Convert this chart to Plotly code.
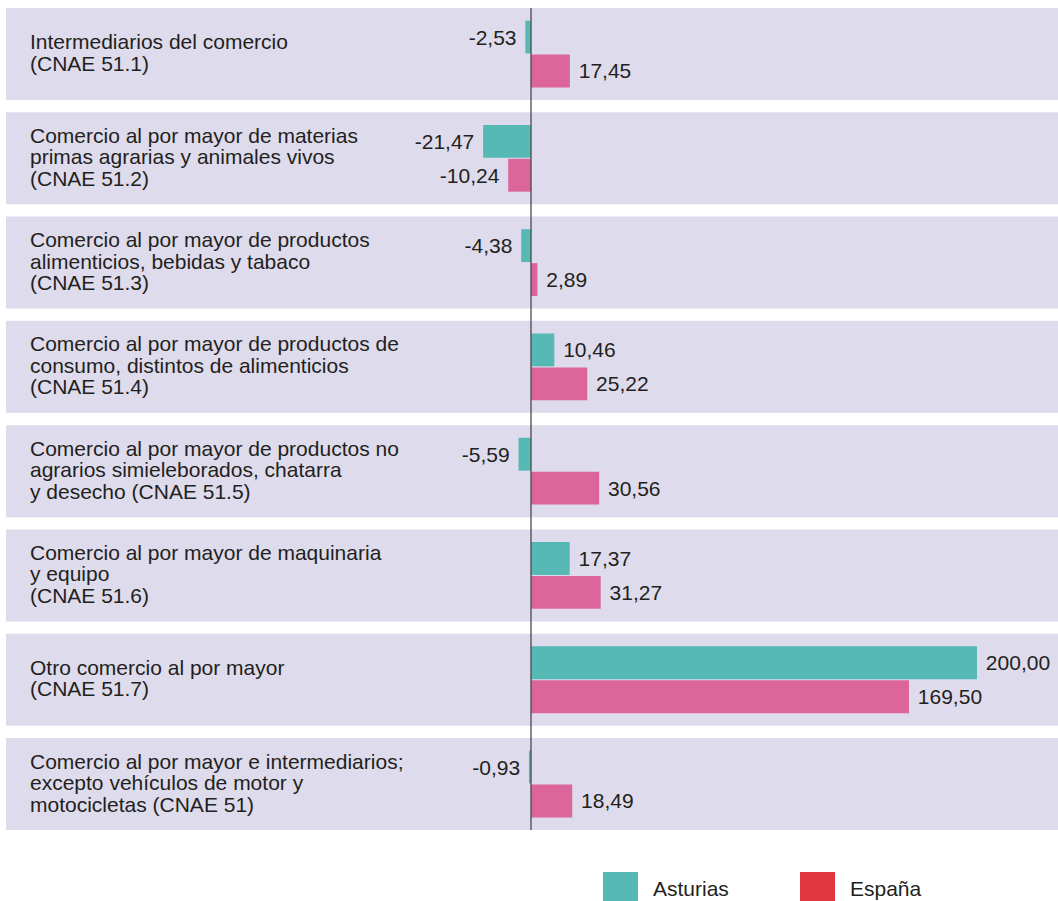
import plotly.graph_objects as go

W, H = 1058, 901

# Sector labels, one entry per text line
labels = [
    ["Intermediarios del comercio", "(CNAE 51.1)"],
    ["Comercio al por mayor de materias", "primas agrarias y animales vivos", "(CNAE 51.2)"],
    ["Comercio al por mayor de productos", "alimenticios, bebidas y tabaco", "(CNAE 51.3)"],
    ["Comercio al por mayor de productos de", "consumo, distintos de alimenticios", "(CNAE 51.4)"],
    ["Comercio al por mayor de productos no", "agrarios simieleborados, chatarra", "y desecho (CNAE 51.5)"],
    ["Comercio al por mayor de maquinaria", "y equipo", "(CNAE 51.6)"],
    ["Otro comercio al por mayor", "(CNAE 51.7)"],
    ["Comercio al por mayor e intermediarios;", "excepto vehículos de motor y", "motocicletas (CNAE 51)"],
]
asturias = [-2.53, -21.47, -4.38, 10.46, -5.59, 17.37, 200.00, -0.93]
espana = [17.45, -10.24, 2.89, 25.22, 30.56, 31.27, 169.50, 18.49]
series_names = ["Asturias", "España"]

categories = [" ".join(lines) for lines in labels]

TEAL = "#57b9b5"
PINK = "#dc6699"
RED = "#e3373f"
BAND = "#dedbec"
INK = "#231f20"
FONT = "Liberation Sans, Arial, Helvetica, sans-serif"
FS = 21
NB = "\u00a0"


def value_text(values):
    out = []
    for v in values:
        s = f"{v:.2f}".replace(".", ",")
        out.append(NB + s if v >= 0 else s + NB)
    return out


fig = go.Figure()
for name, vals, col in [(series_names[0], asturias, TEAL), (series_names[1], espana, PINK)]:
    fig.add_trace(go.Bar(
        name=name, y=categories, x=vals, orientation="h",
        marker=dict(color=col, line=dict(width=0)),
        text=value_text(vals), textposition="outside",
        textfont=dict(family=FONT, size=FS, color=INK),
        constraintext="none", cliponaxis=False,
    ))

# pixel geometry of the plot
zero_px, px_per_unit = 531, 446 / 200
first_center, pitch = 54, 104.29
half_band = 46 / pitch

shapes = []
for i in range(len(categories)):
    shapes.append(dict(type="rect", xref="paper", yref="y", x0=6 / W, x1=1,
                       y0=i - half_band, y1=i + half_band,
                       fillcolor=BAND, line=dict(width=0), layer="below"))
shapes.append(dict(type="line", xref="x", yref="y", x0=0, x1=0,
                   y0=-half_band, y1=len(categories) - 1 + half_band,
                   line=dict(color="#4a4a4a", width=1.3), layer="above"))

annotations = []
LEAD = 21.5
for i, lines in enumerate(labels):
    n = len(lines)
    for k, line in enumerate(lines):
        annotations.append(dict(
            xref="paper", yref="y", x=28 / W, y=i, xanchor="left", yanchor="middle",
            yshift=-(k - (n - 1) / 2) * LEAD + 1.5, text=line, showarrow=False,
            font=dict(family=FONT, size=FS, color=INK)))

# legend drawn as swatches with labels
def py(p):
    return 1 - p / H

for name, col, x0 in [(series_names[0], TEAL, 603), (series_names[1], RED, 800)]:
    shapes.append(dict(type="rect", xref="paper", yref="paper",
                       x0=x0 / W, x1=(x0 + 35) / W, y0=py(907), y1=py(872),
                       fillcolor=col, line=dict(width=0)))
    annotations.append(dict(xref="paper", yref="paper", x=(x0 + 48) / W, y=py(888),
                            xanchor="left", yanchor="middle", text=name, showarrow=False,
                            font=dict(family=FONT, size=FS, color=INK)))

fig.update_layout(
    width=W, height=H, margin=dict(l=0, r=0, t=0, b=0),
    paper_bgcolor="white", plot_bgcolor="white",
    barmode="group", bargap=0.35, bargroupgap=0.03,
    separators=",.", showlegend=False,
    xaxis=dict(range=[-zero_px / px_per_unit, (W - zero_px) / px_per_unit],
               visible=False, fixedrange=True),
    yaxis=dict(type="category", categoryorder="array", categoryarray=categories,
               range=[(H - first_center) / pitch, -first_center / pitch],
               visible=False, fixedrange=True),
    shapes=shapes, annotations=annotations,
    font=dict(family=FONT, size=FS, color=INK),
)

fig.write_html("out.html")
